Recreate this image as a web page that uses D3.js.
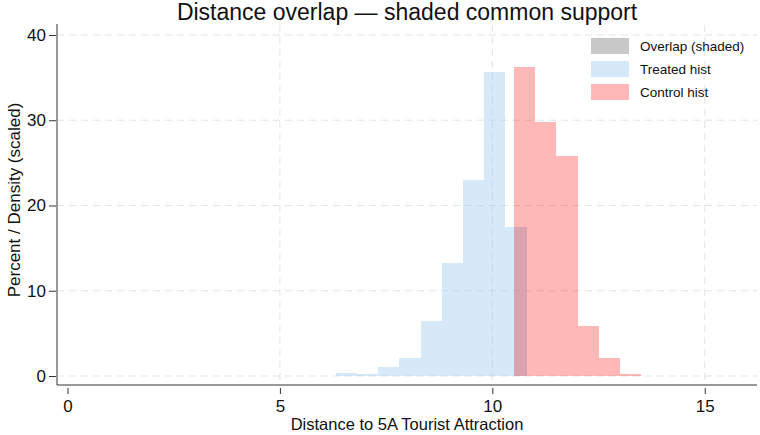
<!DOCTYPE html>
<html lang="en">
<head>
    <meta charset="UTF-8">
    <title>Distance overlap</title>
    <script src="https://d3js.org/d3.v7.min.js"></script>
    <style>
        body{ margin: 0; background: white; }
        text{ font-family: "Liberation Sans", Arial, sans-serif; fill: #111; }
        .grid line{ stroke: #e3e3e3; stroke-dasharray: 7,5; stroke-width: 1px; }
    </style>
</head>
<body>
<svg id="canvas" width="760" height="435"></svg>

<script>
    // histogram data (bin edges + bar heights)
    let treatedEdges = [6.31, 6.81, 7.31, 7.81, 8.31, 8.81, 9.31, 9.81, 10.31, 10.81]
    let treatedVals = [0.3, 0.2, 1.1, 2.15, 6.5, 13.3, 23.0, 35.7, 17.5]
    let controlEdges = [10.51, 11.01, 11.51, 12.01, 12.51, 13.01, 13.51]
    let controlVals = [36.2, 29.8, 25.8, 5.9, 2.1, 0.2]
    let xTicks = [0, 5, 10, 15]
    let yTicks = [0, 10, 20, 30, 40]
    let legendItems = ["Overlap (shaded)", "Treated hist", "Control hist"]

    let svg = d3.select('svg')

    let x = d3.scaleLinear().domain([-0.247, 16.23]).range([57, 757])
    let y = d3.scaleLinear().domain([-1.056, 41.17]).range([385, 25])

    // grid (no vertical line at 0 in the original)
    let grid = svg.append('g').attr('class', 'grid')
    grid.selectAll('line.h')
        .data(yTicks)
        .enter()
        .append('line')
        .attr('x1', 57).attr('x2', 757)
        .attr('y1', d => y(d)).attr('y2', d => y(d))
    grid.selectAll('line.v')
        .data(xTicks.filter(d => d > 0))
        .enter()
        .append('line')
        .attr('y1', 25).attr('y2', 385)
        .attr('x1', d => x(d)).attr('x2', d => x(d))

    function bins(edges, vals){
        return vals.map(function (v, i){ return {x0: edges[i], x1: edges[i + 1], v: v} })
    }

    function drawHist(data, fill, opacity){
        svg.append('g').selectAll('rect')
            .data(data)
            .enter()
            .append('rect')
            .attr('x', d => x(d.x0))
            .attr('width', d => x(d.x1) - x(d.x0))
            .attr('y', d => y(d.v))
            .attr('height', d => y(0) - y(d.v))
            .attr('fill', fill)
            .attr('fill-opacity', opacity)
            .attr('shape-rendering', 'crispEdges')
    }

    let treated = bins(treatedEdges, treatedVals)
    let control = bins(controlEdges, controlVals)

    drawHist(treated, 'rgb(152,200,238)', 0.4)
    drawHist(control, 'red', 0.28)

    // common support: min of both histograms where both exist
    function valueAt(data, t){
        let b = data.find(d => t >= d.x0 && t < d.x1)
        return b ? b.v : 0
    }
    let lo = Math.max(treatedEdges[0], controlEdges[0])
    let hi = Math.min(treatedEdges[treatedEdges.length - 1], controlEdges[controlEdges.length - 1])
    let cuts = treatedEdges.concat(controlEdges).filter(e => e > lo && e < hi)
    cuts = [lo].concat(cuts.sort((a, b) => a - b), [hi])
    let overlap = []
    for (let i = 0; i < cuts.length - 1; i++){
        let mid = (cuts[i] + cuts[i + 1]) / 2
        overlap.push({x0: cuts[i], x1: cuts[i + 1], v: Math.min(valueAt(treated, mid), valueAt(control, mid))})
    }
    drawHist(overlap, '#808080', 0.08)

    // axes
    let axisColor = '#333'
    svg.append('line')
        .attr('x1', 57).attr('x2', 57).attr('y1', 24).attr('y2', 385)
        .attr('stroke', axisColor)
    svg.append('line')
        .attr('x1', 57).attr('x2', 757).attr('y1', 385).attr('y2', 385)
        .attr('stroke', axisColor)

    let yAxis = svg.append('g')
        .attr('transform', 'translate(56,0)')
        .call(d3.axisLeft(y).tickValues(yTicks).tickSize(7).tickPadding(3).tickFormat(d3.format('d')))
    yAxis.select('.domain').remove()

    let xAxis = svg.append('g')
        .attr('transform', 'translate(0,388)')
        .call(d3.axisBottom(x).tickValues(xTicks).tickSize(6).tickPadding(6).tickFormat(d3.format('d')))
    xAxis.select('.domain').remove()

    svg.selectAll('.tick line').attr('stroke', axisColor)
    svg.selectAll('.tick text')
        .style('font-family', '"Liberation Sans", Arial, sans-serif')
        .style('font-size', '17px')
        .attr('fill', '#111')

    // titles
    svg.append('text')
        .attr('x', 407).attr('y', 20)
        .attr('text-anchor', 'middle')
        .style('font-size', '23px')
        .text('Distance overlap \u2014 shaded common support')

    svg.append('text')
        .attr('x', 407).attr('y', 430)
        .attr('text-anchor', 'middle')
        .style('font-size', '16.5px')
        .text('Distance to 5A Tourist Attraction')

    svg.append('text')
        .attr('transform', 'translate(20,200) rotate(-90)')
        .attr('text-anchor', 'middle')
        .style('font-size', '17px')
        .text('Percent / Density (scaled)')

    // legend
    let legendColors = ['#c8c8c8', '#d6e9f8', '#ffb8b8']
    let legend = svg.append('g')
    legend.selectAll('rect')
        .data(legendItems)
        .enter()
        .append('rect')
        .attr('x', 591).attr('width', 38)
        .attr('y', (d, i) => 38 + i * 23).attr('height', 16)
        .attr('fill', (d, i) => legendColors[i])
    legend.selectAll('text')
        .data(legendItems)
        .enter()
        .append('text')
        .attr('x', 640)
        .attr('y', (d, i) => 46 + i * 23)
        .attr('dy', '0.35em')
        .style('font-size', '13.5px')
        .text(d => d)
</script>
</body>
</html>
